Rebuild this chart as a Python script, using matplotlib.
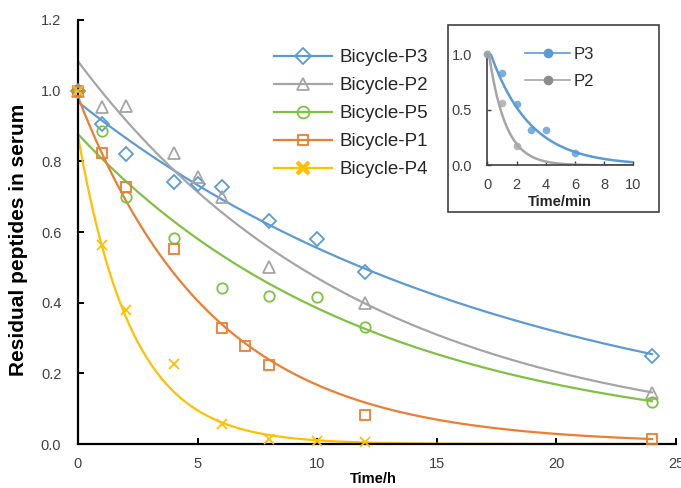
import numpy as np
import matplotlib
matplotlib.use("Agg")
import matplotlib.pyplot as plt
from matplotlib.lines import Line2D
from matplotlib.patches import Rectangle

plt.rcParams["font.family"] = ["Liberation Sans", "DejaVu Sans"]

# ---- serum stability over hours ----
series_names = ["Bicycle-P3", "Bicycle-P2", "Bicycle-P5", "Bicycle-P1", "Bicycle-P4"]
p3_t = [0, 1, 2, 4, 5, 6, 8, 10, 12, 24]
p3_y = [1.0, 0.906, 0.82, 0.742, 0.736, 0.728, 0.632, 0.58, 0.487, 0.25]
p2_t = [0, 1, 2, 4, 5, 6, 8, 12, 24]
p2_y = [1.0, 0.955, 0.957, 0.824, 0.756, 0.70, 0.50, 0.40, 0.145]
p5_t = [0, 1, 2, 4, 6, 8, 10, 12, 24]
p5_y = [1.0, 0.887, 0.70, 0.584, 0.442, 0.42, 0.417, 0.332, 0.12]
p1_t = [0, 1, 2, 4, 6, 7, 8, 12, 24]
p1_y = [1.0, 0.825, 0.728, 0.553, 0.329, 0.278, 0.224, 0.082, 0.014]
p4_t = [0, 1, 2, 4, 6, 8, 10, 12]
p4_y = [1.0, 0.563, 0.38, 0.227, 0.058, 0.013, 0.009, 0.005]
# exponential trendlines y = a * exp(-k * t)
trend_amp = [0.968, 1.083, 0.877, 0.982, 0.872]
trend_rate = [0.0557, 0.0835, 0.0825, 0.177, 0.443]
trend_end = 24

x_ticks = [0, 5, 10, 15, 20, 25]
y_ticks = [0.0, 0.2, 0.4, 0.6, 0.8, 1.0, 1.2]

# ---- inset: first minutes ----
inset_names = ["P3", "P2"]
m3_t = [0, 1, 2, 3, 4, 6]
m3_y = [1.0, 0.83, 0.55, 0.315, 0.315, 0.11]
m2_t = [0, 1, 2]
m2_y = [1.0, 0.56, 0.176]
inset_amp = [1.09, 1.10]
inset_rate = [0.3686, 0.869]
inset_x_ticks = [0, 2, 4, 6, 8, 10]
inset_y_ticks = [0.0, 0.5, 1.0]

colors = ["#5B9BD5", "#A5A5A5", "#7DC242", "#ED7D31", "#FFC000"]
markers = ["D", "^", "o", "s", "x"]
msizes = [7, 8, 7.5, 6.5, 7]

W, H = 681, 488
fig = plt.figure(figsize=(W / 100, H / 100), dpi=100)
ax = fig.add_axes([78 / W, 1 - 444 / H, 598 / W, 424 / H])

all_t = [p3_t, p2_t, p5_t, p1_t, p4_t]
all_y = [p3_y, p2_y, p5_y, p1_y, p4_y]
tt = np.linspace(0, trend_end, 400)
handles = []
for i, name in enumerate(series_names):
    ax.plot(tt, trend_amp[i] * np.exp(-trend_rate[i] * tt), color=colors[i],
            lw=1.6, zorder=2)
    ax.plot(all_t[i], all_y[i], ls="none", marker=markers[i], ms=msizes[i],
            mfc="none", mec=colors[i], mew=1.3, zorder=3, clip_on=False)
    handles.append(Line2D([], [], color=colors[i], lw=1.6, marker=markers[i],
                          ms=msizes[i] + (2 if markers[i] == "x" else 1),
                          mfc="none" if markers[i] != "x" else colors[i],
                          mec=colors[i], mew=1.3 if markers[i] != "x" else 3))

ax.set_xlim(0, 25)
ax.set_ylim(0, 1.2)
ax.set_xticks(x_ticks)
ax.set_yticks(y_ticks)
ax.set_yticklabels([f"{v:.1f}" for v in y_ticks])
for s in ["top", "right"]:
    ax.spines[s].set_visible(False)
for s in ["left", "bottom"]:
    ax.spines[s].set_linewidth(1.6)
    ax.spines[s].set_color("black")
ax.tick_params(axis="both", direction="in", length=4, width=1.4,
               labelsize=10.5, labelcolor="#404040")
ax.tick_params(axis="y", pad=12)
ax.tick_params(axis="x", pad=9)
ax.set_ylabel("Residual peptides in serum", fontsize=15, fontweight="bold")
ax.yaxis.set_label_coords(-0.084, 0.481)
ax.set_xlabel("Time/h", fontsize=10.5, fontweight="bold", va="center")
ax.xaxis.set_label_coords(0.493, -0.083)

leg = ax.legend(handles, series_names, loc="upper left",
                bbox_to_anchor=(274 / W, 1 - 49 / H), bbox_transform=fig.transFigure,
                frameon=False, fontsize=13.5, handlelength=3.1, handletextpad=0.4,
                labelspacing=0.58, borderpad=0, borderaxespad=0)
for txt in leg.get_texts():
    txt.set_color("#262626")

# ---- inset frame and axes ----
fig.add_artist(Rectangle((448 / W, 1 - 212 / H), 211 / W, 187 / H,
                         transform=fig.transFigure, facecolor="white",
                         edgecolor="#404040", lw=1.2, zorder=1))
axi = fig.add_axes([487.3 / W, 1 - 165.3 / H, 146 / W, 111.3 / H], zorder=2)
axi.patch.set_visible(False)
ins_t = [m3_t, m2_t]
ins_y = [m3_y, m2_y]
ins_colors = ["#5B9BD5", "#A5A5A5"]
ins_leg_colors = ["#5B9BD5", "#8C8C8C"]
tm = np.linspace(0, 10, 300)
ihandles = []
for i, name in enumerate(inset_names):
    axi.plot(tm, inset_amp[i] * np.exp(-inset_rate[i] * tm), color=ins_colors[i],
             lw=1.8, zorder=2)
    axi.plot(ins_t[i], ins_y[i], ls="none", marker="o", ms=5.5, mfc=ins_colors[i],
             mec="none", alpha=0.8, zorder=3, clip_on=False)
    ihandles.append(Line2D([], [], color=ins_colors[i], lw=1.2, marker="o", ms=7,
                           mfc=ins_leg_colors[i], mec="none"))
axi.set_xlim(0, 10)
axi.set_ylim(0, 1.0)
axi.set_xticks(inset_x_ticks)
axi.set_yticks(inset_y_ticks)
axi.set_yticklabels([f"{v:.1f}" for v in inset_y_ticks])
for s in ["top", "right"]:
    axi.spines[s].set_visible(False)
for s in ["left", "bottom"]:
    axi.spines[s].set_linewidth(1.2)
    axi.spines[s].set_color("#404040")
axi.tick_params(axis="both", direction="in", length=3, width=1.0,
                labelsize=10.5, labelcolor="#404040", color="#404040")
axi.tick_params(axis="y", pad=11)
axi.tick_params(axis="x", pad=9)
axi.set_xlabel("Time/min", fontsize=10.5, fontweight="bold", color="#262626",
               va="center")
axi.xaxis.set_label_coords(0.5, -0.33)
ileg = axi.legend(ihandles, inset_names, loc="upper left",
                  bbox_to_anchor=(525 / W, 1 - 47 / H), bbox_transform=fig.transFigure,
                  frameon=False, fontsize=12, handlelength=2.7, handletextpad=0.2,
                  labelspacing=0.72, borderpad=0, borderaxespad=0)
for txt in ileg.get_texts():
    txt.set_color("#262626")

fig.savefig("out.png", dpi=100)
